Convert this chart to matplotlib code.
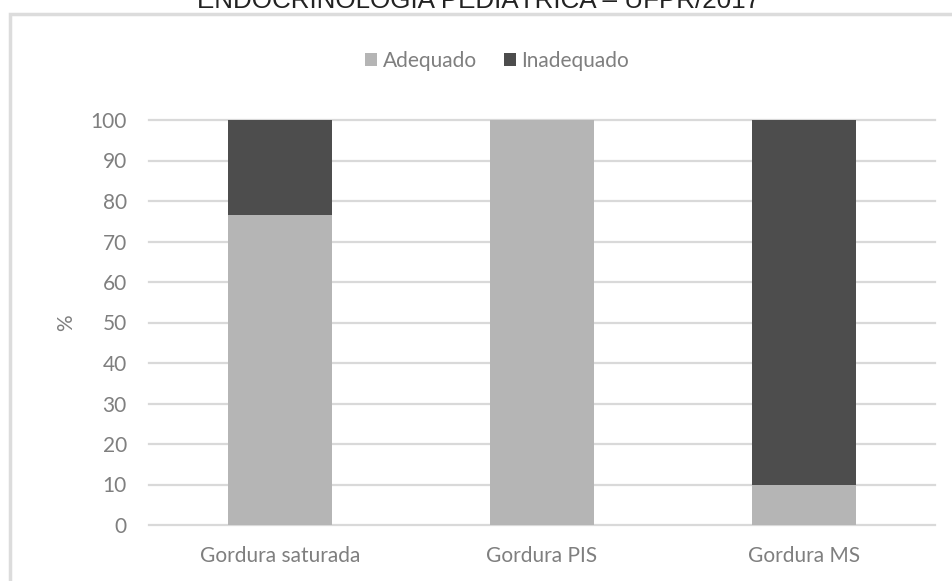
import numpy as np
import matplotlib
matplotlib.use('agg')
import matplotlib.pyplot as plt
from matplotlib.patches import Rectangle

# Percent of adequate / inadequate fat intake per category
categorias = ["Gordura saturada", "Gordura PIS", "Gordura MS"]
adequado = [76.5, 100, 10]
inadequado = [23.5, 0, 90]
yticks = [0, 10, 20, 30, 40, 50, 60, 70, 80, 90, 100]

cor_adeq = '#b5b5b5'
cor_inad = '#4d4d4d'
cor_txt = '#7f7f7f'

plt.rcParams['font.family'] = ['Lato', 'DejaVu Sans']

fig = plt.figure(figsize=(9.52, 5.81), dpi=100, facecolor='w')

# chart frame, runs off the right and bottom edges
fig.patches.append(Rectangle((10/952, -0.1), 1.2, 1 - 13.5/581 + 0.1,
                             transform=fig.transFigure, fill=False,
                             edgecolor='#dcdcdc', linewidth=2.5))

# title, clipped at the top edge
fig.text(479/952, 1 - 8/581, "ENDOCRINOLOGIA PEDIÁTRICA – UFPR/2017",
         ha='center', va='baseline', fontsize=18.7,
         family='Liberation Sans', color='#222222')

ax = fig.add_axes([149/952, 1 - 525/581, (935 - 149)/952, (525 - 120)/581])
x = np.arange(len(categorias))
ax.bar(x, adequado, width=0.4, color=cor_adeq, label='Adequado', zorder=2)
ax.bar(x, inadequado, width=0.4, bottom=adequado, color=cor_inad,
       label='Inadequado', zorder=2)

ax.set_xlim(-0.5, 2.5)
ax.set_ylim(0, 100)
ax.set_yticks(yticks)
ax.set_xticks(x)
ax.set_xticklabels(categorias)
for yv in yticks:
    ax.axhline(yv, color='#d9d9d9', linewidth=1.6, zorder=1, clip_on=False)
for s in ax.spines.values():
    s.set_visible(False)
ax.tick_params(length=0, colors=cor_txt, labelsize=15)
ax.tick_params(axis='y', pad=16)
ax.tick_params(axis='x', pad=15)
ax.set_ylabel('%', color=cor_txt, fontsize=15, labelpad=10)

leg = fig.legend(loc='center', bbox_to_anchor=(497/952, 1 - 61/581), ncol=2,
                 frameon=False, fontsize=15, handlelength=0.6,
                 handleheight=0.6, handletextpad=0.25, columnspacing=1.3)
for t in leg.get_texts():
    t.set_color(cor_txt)

plt.savefig("out.png", dpi=100, facecolor='w')
